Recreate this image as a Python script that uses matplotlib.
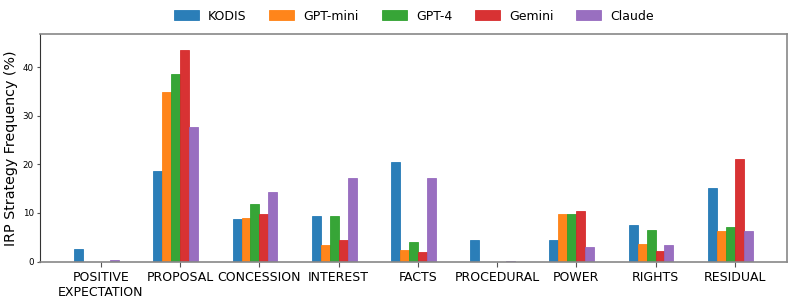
import matplotlib
matplotlib.use("Agg")
import matplotlib.pyplot as plt
import numpy as np

categories = ["POSITIVE\nEXPECTATION", "PROPOSAL", "CONCESSION", "INTEREST", "FACTS",
              "PROCEDURAL", "POWER", "RIGHTS", "RESIDUAL"]
series_names = ["KODIS", "GPT-mini", "GPT-4", "Gemini", "Claude"]
kodis    = [2.6, 18.6, 8.7, 9.4, 20.4, 4.4, 4.4, 7.5, 15.1]
gpt_mini = [0.0, 34.8, 8.9, 3.3, 2.4, 0.0, 9.8, 3.6, 6.3]
gpt_4    = [0.0, 38.5, 11.9, 9.4, 4.1, 0.0, 9.8, 6.5, 7.1]
gemini   = [0.0, 43.6, 9.8, 4.5, 2.0, 0.0, 10.4, 2.1, 21.0]
claude   = [0.4, 27.7, 14.2, 17.2, 17.2, 0.1, 3.0, 3.4, 6.3]
series = [kodis, gpt_mini, gpt_4, gemini, claude]
colors = ["#1f77b4", "#ff7f0e", "#2ca02c", "#d62728", "#9467bd"]

fig = plt.figure(figsize=(7.93, 2.99), dpi=100)
ax = fig.add_axes([40/793, 1-261.5/299, (787-40)/793, (261.5-34)/299])

x = np.arange(len(categories))
w = 0.113
for i, (name, vals, c) in enumerate(zip(series_names, series, colors)):
    ax.bar(x + (i - 2.5) * w, vals, width=w, color=c, label=name,
           edgecolor=c, linewidth=0.6, alpha=0.95)

ax.set_xticks(x)
ax.set_xticklabels(categories, fontsize=9)
ax.set_xlim(-0.77, 8.66)
ax.set_ylim(0, 46.8)
ax.set_yticks([0, 10, 20, 30, 40])
ax.tick_params(axis="y", labelsize=6.3, color="#555555", length=2.5, pad=2)
ax.tick_params(axis="x", color="#555555", length=3.5, pad=3)
ax.set_ylabel("IRP Strategy Frequency (%)", fontsize=10.3, labelpad=3)
for s in ax.spines.values():
    s.set_color("#888888")
    s.set_linewidth(1.2)
ax.spines["left"].set_color("#333333")
ax.spines["left"].set_linewidth(0.8)

fig.legend(loc="center left", bbox_to_anchor=(170/793, 1 - 16/299), ncol=5, frameon=False,
           fontsize=9, handlelength=2.0, handleheight=0.8, handletextpad=0.75,
           columnspacing=1.8, borderaxespad=0, borderpad=0.3)

fig.savefig("out.png", dpi=100)
